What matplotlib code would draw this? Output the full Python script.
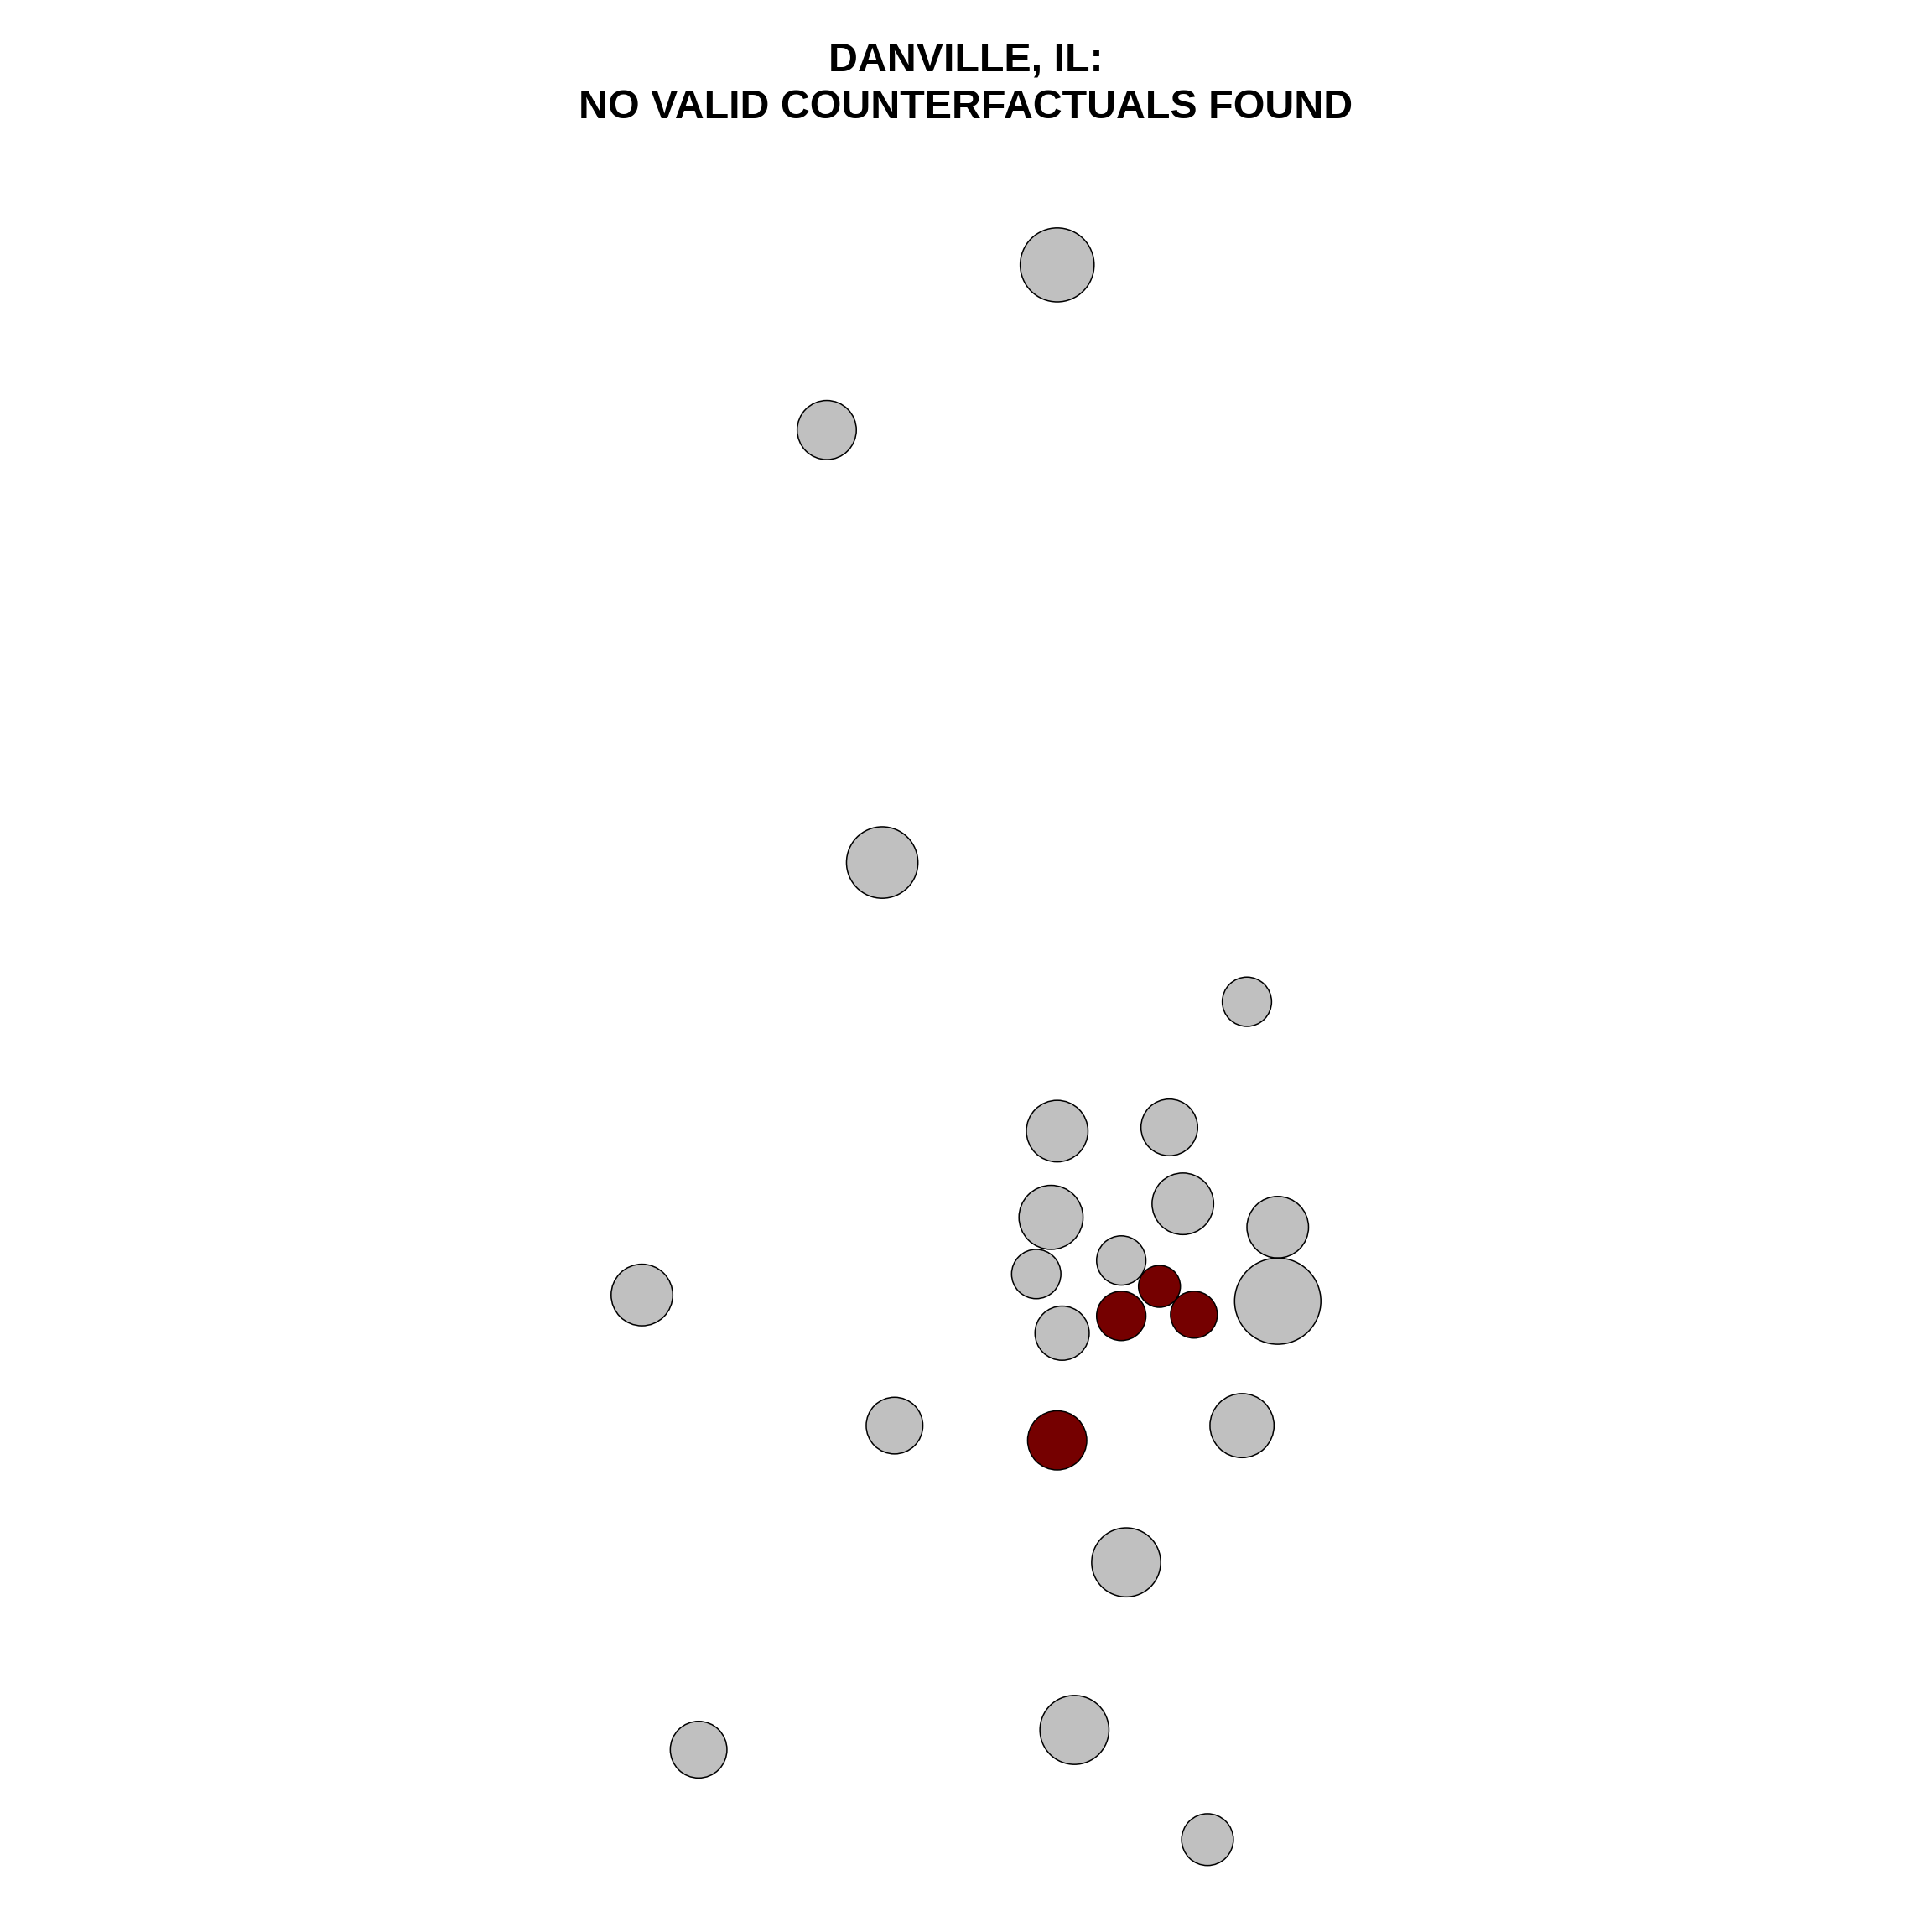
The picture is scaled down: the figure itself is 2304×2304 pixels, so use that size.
import numpy as np
import matplotlib.pyplot as plt

plt.rcParams['font.family'] = ['Liberation Sans', 'DejaVu Sans']

# point positions (map units) and circle radii
x = [858, 671, 716, 1012, 858, 949, 853, 960, 1037, 910, 841, 521, 1037, 862,
     941, 910, 969, 858, 726, 1008, 914, 567, 872, 980]
y = [215, 349, 700, 813, 918, 915, 988, 977, 996, 1023, 1034, 1051, 1056, 1082,
     1044, 1068, 1067, 1169, 1157, 1157, 1268, 1420, 1404, 1493]
radius = [30, 24, 29, 20, 25, 23, 26, 25, 25, 20, 20, 25, 35, 22,
          17, 20, 19, 24, 23, 26, 28, 23, 28, 21]
treated = [0, 0, 0, 0, 0, 0, 0, 0, 0, 0, 0, 0, 0, 0,
           1, 1, 1, 1, 0, 0, 0, 0, 0, 0]

title = "DANVILLE, IL:\nNO VALID COUNTERFACTUALS FOUND"

fig = plt.figure(figsize=(23.04, 23.04), dpi=100)
ax = fig.add_axes([0, 0, 1, 1])
ax.set_xlim(0, 1568)
ax.set_ylim(1568, 0)
ax.axis('off')

scale = 2304 / 1568 * 72 / 100
r = np.array(radius) * scale
cols = np.where(np.array(treated) == 1, '#750000', '#c0c0c0')
ax.scatter(x, y, s=(2 * r) ** 2, c=cols, edgecolors='black', linewidths=1.1, zorder=2)

fig.text(0.5, 1 - 100 / 2304, title, ha='center', va='center', fontsize=34.8,
         fontweight='bold', linespacing=1.32)

fig.savefig('out.png', dpi=100)
